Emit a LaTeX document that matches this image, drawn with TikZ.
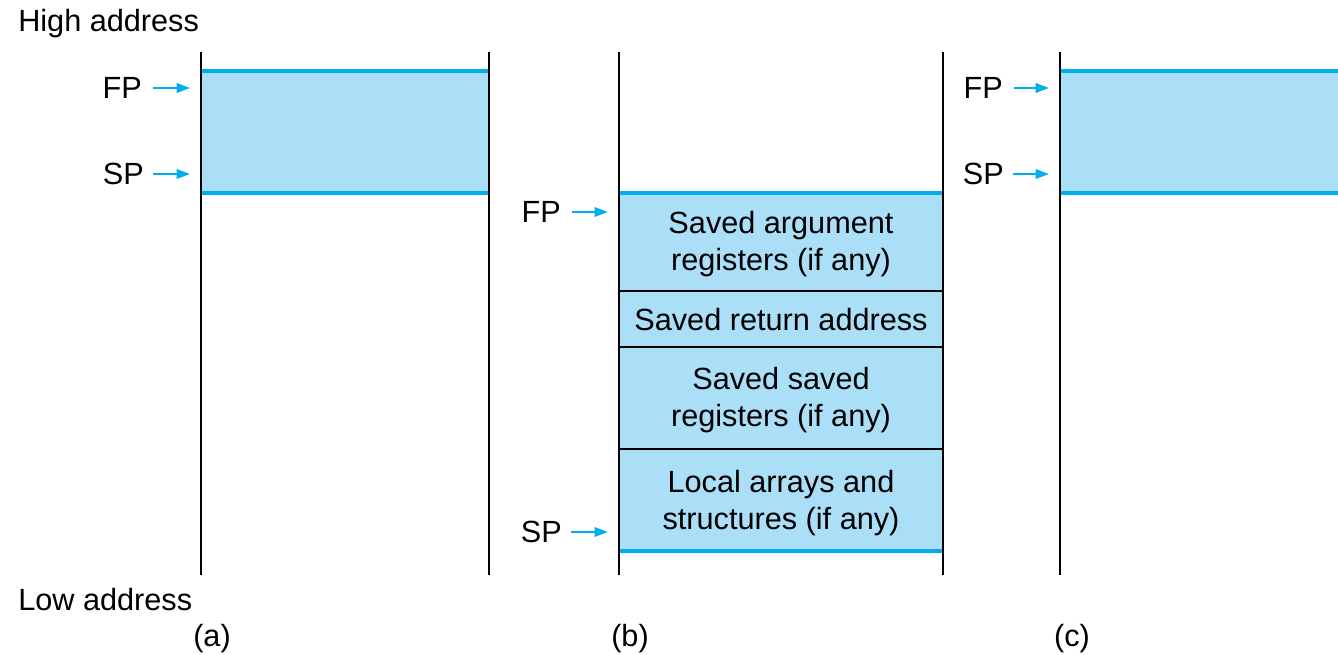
\documentclass[tikz,border=0pt]{standalone}
\usepackage{fontspec}
\setmainfont{Liberation Sans}
\usetikzlibrary{arrows.meta}
\definecolor{frameblue}{RGB}{0,174,239}
\definecolor{cellfill}{RGB}{171,223,248}
\tikzset{
  lbl/.style={inner sep=0pt, font=\fontsize{23}{27.75}\selectfont},
  celltext/.style={inner sep=0pt, align=center, font=\fontsize{23}{27.75}\selectfont},
  ptr/.style={draw=frameblue, line width=1.6pt, -{Triangle[length=10pt,width=7pt]}},
  wall/.style={draw=black, line width=1.2pt},
  edge/.style={draw=frameblue, line width=3pt},
  cell/.style={fill=cellfill, draw=black, line width=1pt},
}
\begin{document}
\begin{tikzpicture}[x=0.75pt,y=-0.75pt]
\useasboundingbox (0,0) rectangle (1338,655);
% panel a
\fill[cellfill] (201,71) rectangle (489,193);
\draw[edge] (201,71) -- (489,71);
\draw[edge] (201,193) -- (489,193);
\draw[wall] (201,52) -- (201,575);
\draw[wall] (489,52) -- (489,575);
% panel b
\path[cell] (619,193) rectangle (943,291);
\path[cell] (619,291) rectangle (943,347);
\path[cell] (619,347) rectangle (943,449);
\path[cell] (619,449) rectangle (943,551);
\node[celltext] (c1) at (781,244) {Saved argument\\registers (if any)};
\node[celltext] (c2) at (781,320) {Saved return address};
\node[celltext] (c3) at (781,400) {Saved saved\\registers (if any)};
\node[celltext] (c4) at (781,503) {Local arrays and\\structures (if any)};
\draw[edge] (619,193) -- (943,193);
\draw[edge] (619,551) -- (943,551);
\draw[wall] (619,52) -- (619,575);
\draw[wall] (943,52) -- (943,575);
% panel c
\fill[cellfill] (1060,71) rectangle (1338,193);
\draw[edge] (1060,71) -- (1338,71);
\draw[edge] (1060,193) -- (1338,193);
\draw[wall] (1060,52) -- (1060,575);
% labels
\node[lbl, anchor=west] (high) at (18,24) {High address};
\node[lbl, anchor=west] (low) at (18,600) {Low address};
\node[lbl] (pa) at (212,639) {(a)};
\node[lbl] (pb) at (630,639) {(b)};
\node[lbl] (pc) at (1072,639) {(c)};
% pointers
\node[lbl, anchor=east] (fpa) at (142,88) {FP};
\coordinate (fpaT) at (190,88);
\draw[ptr] ([xshift=8pt]fpa.east) -- (fpaT);
\node[lbl, anchor=east] (spa) at (144,174) {SP};
\coordinate (spaT) at (190,174);
\draw[ptr] ([xshift=7pt]spa.east) -- (spaT);
\node[lbl, anchor=east] (fpb) at (561,212) {FP};
\coordinate (fpbT) at (608,212);
\draw[ptr] ([xshift=8pt]fpb.east) -- (fpbT);
\node[lbl, anchor=east] (spb) at (562,532) {SP};
\coordinate (spbT) at (608,532);
\draw[ptr] ([xshift=7pt]spb.east) -- (spbT);
\node[lbl, anchor=east] (fpc) at (1003,88) {FP};
\coordinate (fpcT) at (1049,88);
\draw[ptr] ([xshift=8pt]fpc.east) -- (fpcT);
\node[lbl, anchor=east] (spc) at (1004,174) {SP};
\coordinate (spcT) at (1049,174);
\draw[ptr] ([xshift=7pt]spc.east) -- (spcT);
\end{tikzpicture}
\end{document}
